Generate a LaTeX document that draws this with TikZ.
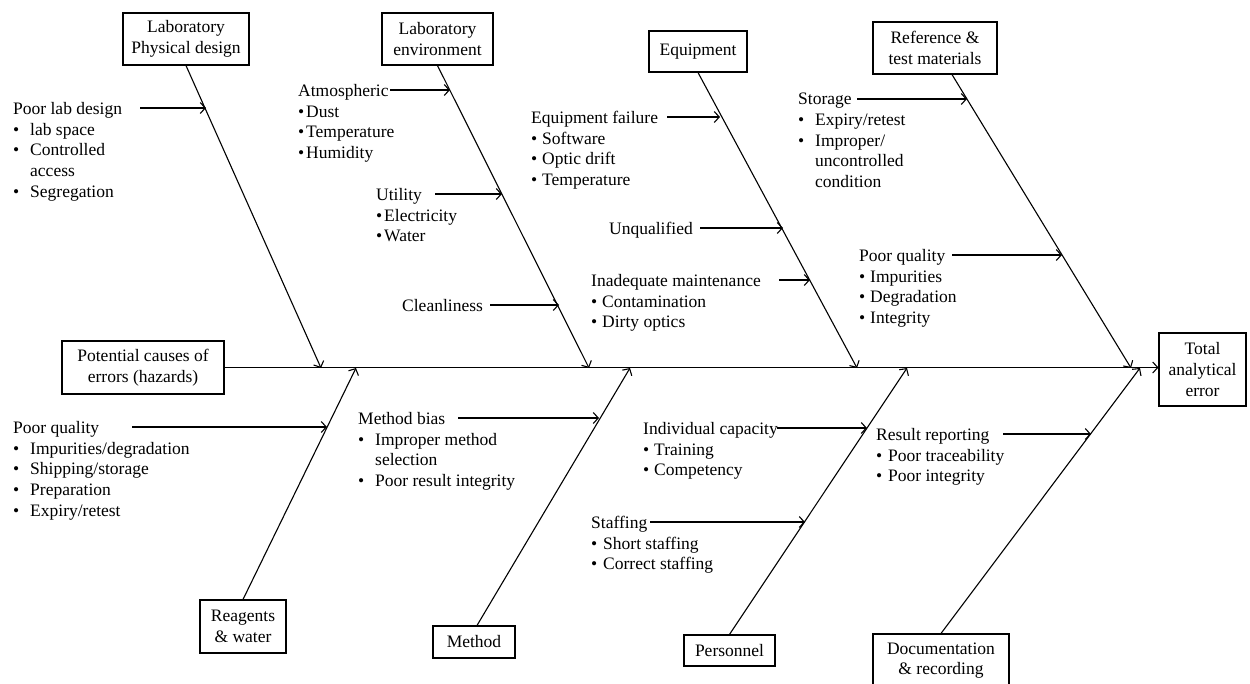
\documentclass[tikz,border=0pt]{standalone}
\usepackage{fontspec}
\setmainfont{Liberation Serif}
\usetikzlibrary{arrows.meta,calc}
\newcommand\bul[1]{\makebox[#1][l]{\textbullet}}
\begin{document}
\begin{tikzpicture}[x=1pt,y=-1pt,
  every node/.style={font=\fontsize{17.5}{20.7}\selectfont},
  box/.style={draw, line width=1.1pt, align=center, inner sep=0pt},
  lbl/.style={anchor=north west, align=left, inner sep=0pt},
  bone/.style={line width=1.1pt, -{Straight Barb[length=5pt,width=11pt]}},
  arr/.style={line width=1.1pt, -{Straight Barb[length=5pt,width=11pt]}}]
\useasboundingbox (0,0) rectangle (1250,683);
% category boxes
\node[box, minimum width=126pt, minimum height=52pt] (lpd) at (186,39) {Laboratory\\Physical design};
\node[box, minimum width=111pt, minimum height=52pt] (env) at (437.5,39) {Laboratory\\environment};
\node[box, minimum width=98pt, minimum height=41pt] (equ) at (698,51.5) {Equipment};
\node[box, minimum width=124pt, minimum height=52pt] (ref) at (935,48) {Reference \&\\test materials};
\node[box, minimum width=162pt, minimum height=53pt] (pot) at (143,367.5) {Potential causes of\\errors (hazards)};
\node[box, minimum width=87pt, minimum height=73pt] (tot) at (1202.5,369.5) {Total\\analytical\\error};
\node[box, minimum width=86pt, minimum height=53pt] (rea) at (243,626.5) {Reagents\\\& water};
\node[box, minimum width=82pt, minimum height=32pt] (met) at (474,642) {Method};
\node[box, minimum width=91pt, minimum height=31pt] (per) at (729.5,650.5) {Personnel};
\node[box, minimum width=136pt, minimum height=53pt] (doc) at (941,660.5) {Documentation\\\& recording};
% spine
\draw[arr] (pot.east) -- (tot.west |- pot.east);
% tips on the spine
\coordinate (tLpd) at (321,368);
\coordinate (tEnv) at (589,368);
\coordinate (tEqu) at (857,368);
\coordinate (tRef) at (1131,368);
\coordinate (tRea) at (356,368);
\coordinate (tMet) at (630,368);
\coordinate (tPer) at (907,368);
\coordinate (tDoc) at (1140,368);
\coordinate (refS) at ($(ref.south)+(17,0)$);
\coordinate (metS) at ($(met.north)+(3,0)$);
\draw[bone] (lpd.south) -- (tLpd);
\draw[bone] (env.south) -- (tEnv);
\draw[bone] (equ.south) -- (tEqu);
\draw[bone] (refS) -- (tRef);
\draw[bone] (rea.north) -- (tRea);
\draw[bone] (metS) -- (tMet);
\draw[bone] (per.north) -- (tPer);
\draw[bone] (doc.north) -- (tDoc);
% cause texts
\node[lbl] (c1) at (13,102) {Poor lab design\\\bul{17pt}lab space\\\bul{17pt}Controlled\\\hspace*{17pt}access\\\bul{17pt}Segregation};
\node[lbl] (c2) at (298,84) {Atmospheric\\\bul{8pt}Dust\\\bul{8pt}Temperature\\\bul{8pt}Humidity};
\node[lbl] (c3) at (376,188) {Utility\\\bul{8pt}Electricity\\\bul{8pt}Water};
\node[lbl] (c4) at (402,299) {Cleanliness};
\node[lbl] (c5) at (531,111) {Equipment failure\\\bul{11pt}Software\\\bul{11pt}Optic drift\\\bul{11pt}Temperature};
\node[lbl] (c6) at (609,222) {Unqualified};
\node[lbl] (c7) at (591,274) {Inadequate maintenance\\\bul{11pt}Contamination\\\bul{11pt}Dirty optics};
\node[lbl] (c8) at (798,93) {Storage\\\bul{17pt}Expiry/retest\\\bul{17pt}Improper/\\\hspace*{17pt}uncontrolled\\\hspace*{17pt}condition};
\node[lbl] (c9) at (859,249) {Poor quality\\\bul{11pt}Impurities\\\bul{11pt}Degradation\\\bul{11pt}Integrity};
\node[lbl] (c10) at (13,421) {Poor quality\\\bul{17pt}Impurities/degradation\\\bul{17pt}Shipping/storage\\\bul{17pt}Preparation\\\bul{17pt}Expiry/retest};
\node[lbl] (c11) at (358,412) {Method bias\\\bul{17pt}Improper method\\\hspace*{17pt}selection\\\bul{17pt}Poor result integrity};
\node[lbl] (c12) at (643,422) {Individual capacity\\\bul{11pt}Training\\\bul{11pt}Competency};
\node[lbl] (c13) at (591,516) {Staffing\\\bul{12pt}Short staffing\\\bul{12pt}Correct staffing};
\node[lbl] (c14) at (876,428) {Result reporting\\\bul{12pt}Poor traceability\\\bul{12pt}Poor integrity};
% cause arrows
\coordinate (s1) at (140,108); \coordinate (e1) at (206,108);
\coordinate (s2) at (390,90); \coordinate (e2) at (450,90);
\coordinate (s3) at (435,194); \coordinate (e3) at (502,194);
\coordinate (s4) at (490,305); \coordinate (e4) at (559,305);
\coordinate (s5) at (667,117); \coordinate (e5) at (720,117);
\coordinate (s6) at (700,228); \coordinate (e6) at (783,228);
\coordinate (s7) at (779,280); \coordinate (e7) at (810,280);
\coordinate (s8) at (857,99); \coordinate (e8) at (967,99);
\coordinate (s9) at (952,255); \coordinate (e9) at (1062,255);
\coordinate (s10) at (132,427); \coordinate (e10) at (327,427);
\coordinate (s11) at (458,418); \coordinate (e11) at (599,418);
\coordinate (s12) at (777,428); \coordinate (e12) at (867,428);
\coordinate (s13) at (650,522); \coordinate (e13) at (805,522);
\coordinate (s14) at (1003,434); \coordinate (e14) at (1091,434);
\foreach \i in {1,...,14} {\draw[arr] (s\i) -- (e\i);}
\end{tikzpicture}
\end{document}
